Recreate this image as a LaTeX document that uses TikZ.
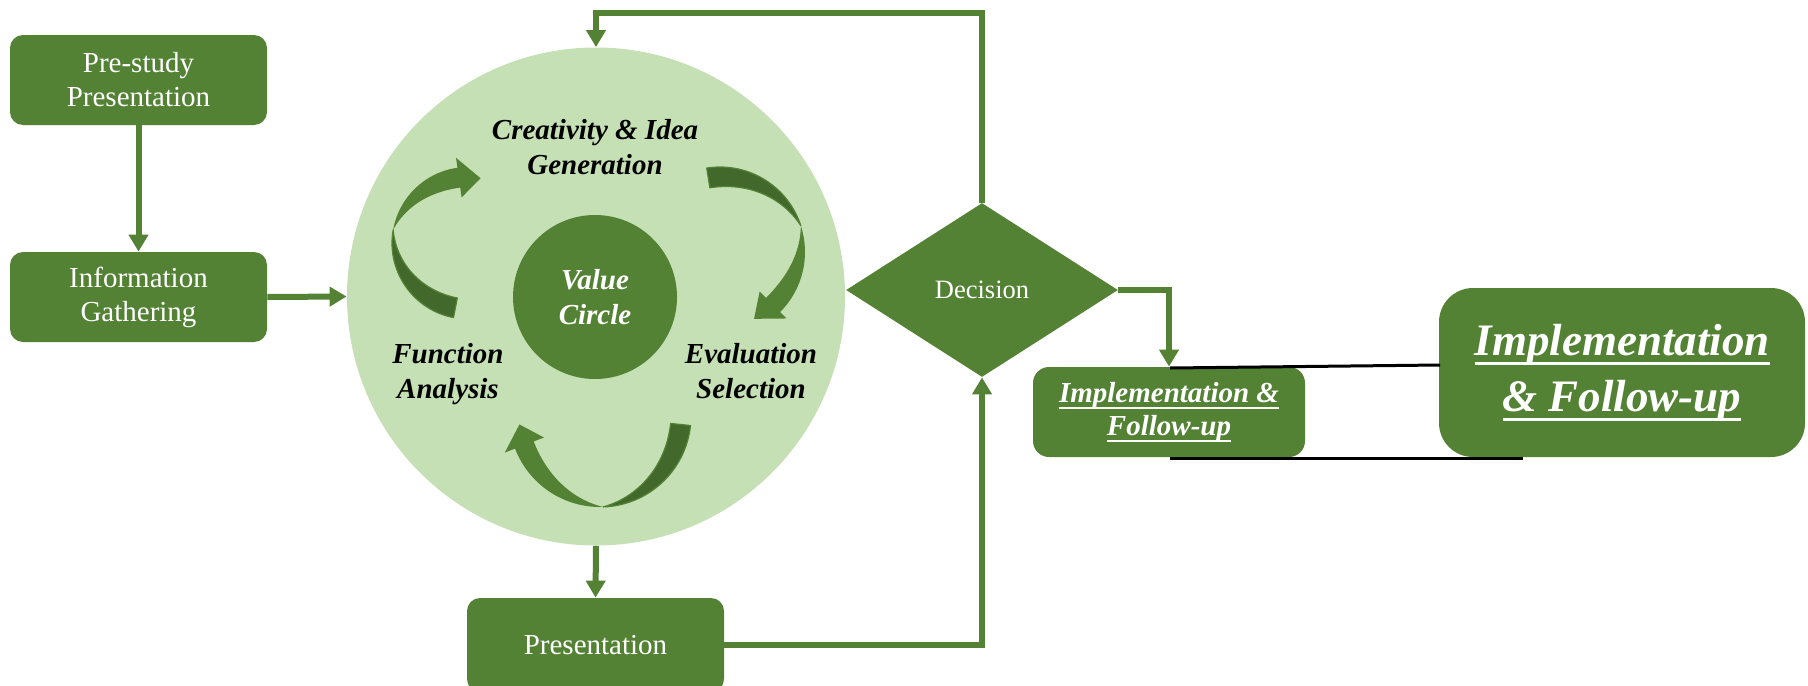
\documentclass[tikz,border=0pt]{standalone}
\usepackage{fontspec}
\setmainfont{Liberation Serif}
\usetikzlibrary{arrows.meta,shapes.geometric,calc}
\definecolor{midg}{HTML}{548235}
\definecolor{lightg}{HTML}{C5E0B4}
\definecolor{darkg}{HTML}{43682B}
\newcommand\ulx[3]{{\setbox0=\hbox{#3}\dp0=0pt\vtop{\box0\kern#2\hrule height #1}}}
% cx, cy, Ro, a0 (tail), at (twist), a1 (head base), atip, w, hh
\newcommand\bandarrow[9]{%
 \pgfmathsetmacro\bMid{#3-#8/2}%
 \pgfmathsetmacro\bHo{\bMid+#9}%
 \pgfmathsetmacro\bHi{\bMid-#9}%
 \filldraw[fill=darkg, draw=midg, line width=0.6pt, line join=round]
   plot[domain=#4:#5, samples=40] ({#1+(#3-#8*sin(90*(#5-\x)/(#5-#4)))*cos(\x)}, {#2+(#3-#8*sin(90*(#5-\x)/(#5-#4)))*sin(\x)})
   arc[start angle=#5, end angle=#4, radius=#3] -- cycle;
 \fill[midg]
   plot[domain=#5:#6, samples=40] ({#1+(#3-#8*sin(90*(\x-#5)/(#6-#5)))*cos(\x)}, {#2+(#3-#8*sin(90*(\x-#5)/(#6-#5)))*sin(\x)})
   -- ({#1+\bHi*cos(#6)},{#2+\bHi*sin(#6)})
   -- ({#1+\bMid*cos(#7)},{#2+\bMid*sin(#7)})
   -- ({#1+\bHo*cos(#6)},{#2+\bHo*sin(#6)})
   -- ({#1+#3*cos(#6)},{#2+#3*sin(#6)})
   arc[start angle=#6, end angle=#5, radius=#3] -- cycle;
}
\begin{document}
\begin{tikzpicture}[x=0.5pt, y=-0.5pt,
  gbox/.style={fill=midg, rounded corners=6.5pt, text=white, align=center, inner sep=0pt,
    font=\fontsize{14.5pt}{17pt}\selectfont},
  lab/.style={align=center, inner sep=0pt, font=\fontsize{14.5pt}{17.5pt}\selectfont\bfseries\itshape},
  conn/.style={midg, line width=3pt, -{Triangle[length=8.5pt,width=9.5pt]}},
  blackline/.style={black, line width=1.5pt}]
\useasboundingbox (0,0) rectangle (1808,685);

% left boxes
\node[gbox, minimum width=128.5pt, minimum height=45pt] (pre) at (138.5,80) {Pre-study\\Presentation};
\node[gbox, minimum width=128.5pt, minimum height=45pt] (info) at (138.5,297) {Information\\Gathering};

% value circle
\node[circle, fill=lightg, minimum size=249pt, inner sep=0pt] (vc) at (596,296.5) {};
\node[circle, fill=midg, minimum size=82pt, inner sep=0pt, text=white, lab] (val) at (595,297) {Value\\Circle};

\bandarrow{468}{243}{76}{101}{190}{262}{281}{20}{20}
\bandarrow{720}{252}{85}{-99}{-18}{45}{63}{20}{19}
\bandarrow{600}{416}{91}{6}{88}{159}{174}{20}{21}

\node[lab] (cre) at (595,147.5) {Creativity \& Idea\\Generation};
\node[lab] (fun) at (448,374.5) {Function\\Analysis};
\node[lab] (eva) at (751,371.5) {Evaluation\\Selection};

% presentation and decision
\node[gbox, minimum width=128.5pt, minimum height=47pt] (pres) at (595.5,645) {Presentation};
\node[diamond, fill=midg, minimum width=136pt, minimum height=87pt, inner sep=0pt, aspect=1.56,
  text=white, font=\fontsize{13.25pt}{16pt}\selectfont] (dec) at (982,290) {Decision};

% implementation boxes
\node[gbox, rounded corners=8pt, minimum width=136pt, minimum height=45pt,
  font=\fontsize{14.5pt}{16.5pt}\selectfont\bfseries\itshape] (small) at (1169,412)
  {\ulx{1pt}{2pt}{Implementation \&}\\\ulx{1pt}{2pt}{Follow-up}};
\node[gbox, rounded corners=17pt, minimum width=183pt, minimum height=84.5pt,
  font=\fontsize{22.5pt}{28pt}\selectfont\bfseries\itshape] (big) at (1622,372.5)
  {\ulx{1.5pt}{3pt}{Implementation}\\\ulx{1.5pt}{3pt}{\& Follow-up}};

% connectors
\coordinate (looptop) at (596,13);
\draw[conn] (pre.south) -- (info.north);
\draw[conn] (info.east) -- (vc.west);
\draw[conn] (vc.south) -- (pres.north);
\draw[conn] (pres.east) -| (dec.south);
\draw[conn] (dec.north) |- (looptop) -- (vc.north);
\draw[conn] (dec.east) -| (small.north);

% black callout lines
\coordinate (ta) at (1170,368);
\coordinate (tb) at (1440,365);
\coordinate (ba) at (1170,458);
\coordinate (bb) at (1523,458);
\draw[blackline] (ta) -- (tb);
\draw[blackline] (ba) -- (bb);
\end{tikzpicture}
\end{document}
